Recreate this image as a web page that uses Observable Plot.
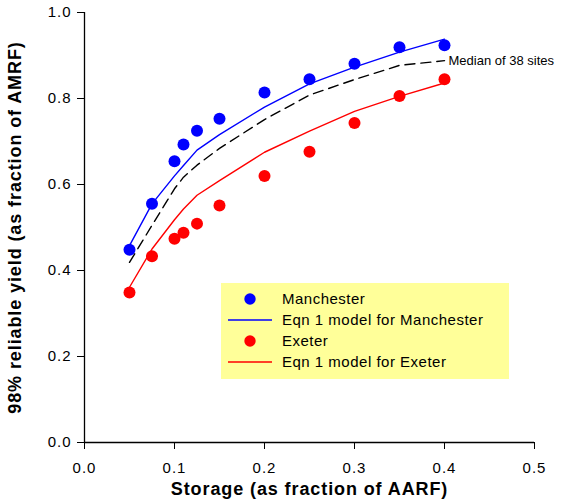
<!DOCTYPE html>
<html>
<head>
<meta charset="utf-8">
<script src="https://cdn.jsdelivr.net/npm/d3@7"></script>
<script src="https://cdn.jsdelivr.net/npm/@observablehq/plot@0.6"></script>
<style>
  html, body { margin: 0; padding: 0; background: #fff; }
  #wrap { position: relative; width: 581px; height: 504px; }
  #wrap svg.chart { display: block; }
  #wrap [aria-label="x-axis tick label"] text,
  #wrap [aria-label="y-axis tick label"] text { font-size: 15px; letter-spacing: 1px; fill: #000; }
  #wrap [aria-label="x-axis label"] text,
  #wrap [aria-label="y-axis label"] text { font-size: 18px; font-weight: bold; letter-spacing: 0.9px; fill: #000; }
  #legend { position: absolute; left: 221px; top: 283px; }
</style>
</head>
<body>
<div id="wrap"></div>
<script>
// ---- data ----
const storage = [0.05, 0.075, 0.1, 0.11, 0.125, 0.15, 0.2, 0.25, 0.3, 0.35, 0.4];
const manchesterObs   = [0.448, 0.555, 0.654, 0.693, 0.725, 0.753, 0.814, 0.845, 0.881, 0.919, 0.924];
const exeterObs       = [0.349, 0.433, 0.474, 0.488, 0.509, 0.551, 0.620, 0.676, 0.743, 0.806, 0.845];
const manchesterModel = [0.458, 0.555, 0.620, 0.644, 0.680, 0.716, 0.780, 0.834, 0.873, 0.908, 0.938];
const exeterModel     = [0.361, 0.450, 0.518, 0.543, 0.575, 0.609, 0.675, 0.724, 0.770, 0.805, 0.836];
const median38        = [0.419, 0.505, 0.590, 0.617, 0.645, 0.684, 0.751, 0.808, 0.844, 0.877, 0.888];

const xTicks = [0, 0.1, 0.2, 0.3, 0.4, 0.5];
const yTicks = [0, 0.2, 0.4, 0.6, 0.8, 1.0];

const legendLabels = ["Manchester", "Eqn 1 model for Manchester", "Exeter", "Eqn 1 model for Exeter"];
const legendKinds  = ["dot", "line", "dot", "line"];
const legendColors = ["#0000ff", "#0000ff", "#ff0000", "#ff0000"];

// ---- tables built from the arrays ----
const rows = (ys) => storage.map((x, i) => ({x, y: ys[i]}));
const manObs = rows(manchesterObs), exObs = rows(exeterObs);
const manMod = rows(manchesterModel), exMod = rows(exeterModel), med = rows(median38);

const fmt = d => d.toFixed(1);

const chart = Plot.plot({
  width: 581,
  height: 504,
  marginLeft: 84,
  marginRight: 47,
  marginTop: 12,
  marginBottom: 62,
  x: {domain: [0, 0.5]},
  y: {domain: [0, 1]},
  style: {fontFamily: "'Liberation Sans', Arial, sans-serif", fontSize: "15px", color: "#000", background: "#fff"},
  marks: [
    Plot.axisX({ticks: xTicks, tickFormat: fmt, tickSize: 7, tickPadding: 13,
      label: "Storage (as fraction of AARF)", labelAnchor: "center", labelArrow: "none", labelOffset: 52}),
    Plot.axisY({ticks: yTicks, tickFormat: fmt, tickSize: 7, tickPadding: 6,
      label: "98% reliable yield (as fraction of AMRF)", labelAnchor: "center", labelArrow: "none", labelOffset: 76}),
    Plot.ruleX([0], {stroke: "#000", strokeWidth: 1.3}),
    Plot.ruleY([0], {stroke: "#000", strokeWidth: 1.3}),
    Plot.line(med, {x: "x", y: "y", stroke: "#000", strokeWidth: 1.4, strokeDasharray: "10,6"}),
    Plot.line(manMod, {x: "x", y: "y", stroke: "#0000ff", strokeWidth: 1.4}),
    Plot.line(exMod, {x: "x", y: "y", stroke: "#ff0000", strokeWidth: 1.4}),
    Plot.dot(manObs, {x: "x", y: "y", r: 6, fill: "#0000ff", stroke: null}),
    Plot.dot(exObs, {x: "x", y: "y", r: 6, fill: "#ff0000", stroke: null}),
    Plot.text(med.slice(-1), {x: "x", y: "y", text: () => "Median of 38 sites", textAnchor: "start",
      dx: 4, fontSize: 13, fill: "#000"})
  ]
});
chart.classList.add("chart");
document.getElementById("wrap").appendChild(chart);

// ---- legend (yellow box) ----
const lw = 288, lh = 96, rowH = 21, row0 = 16;
const leg = d3.select("#wrap").append("svg")
  .attr("id", "legend").attr("width", lw).attr("height", lh);
leg.append("rect").attr("width", lw).attr("height", lh).attr("fill", "#ffff99");
legendLabels.forEach((lab, i) => {
  const cy = row0 + i * rowH;
  if (legendKinds[i] === "dot") {
    leg.append("circle").attr("cx", 29).attr("cy", cy).attr("r", 5.7).attr("fill", legendColors[i]);
  } else {
    leg.append("line").attr("x1", 7).attr("x2", 51).attr("y1", cy).attr("y2", cy)
      .attr("stroke", legendColors[i]).attr("stroke-width", 1.5);
  }
  leg.append("text").attr("x", 61).attr("y", cy).attr("dy", "0.35em")
    .attr("font-family", "'Liberation Sans', Arial, sans-serif").attr("font-size", 15)
    .attr("letter-spacing", "0.5px").attr("fill", "#000").text(lab);
});
</script>
</body>
</html>
